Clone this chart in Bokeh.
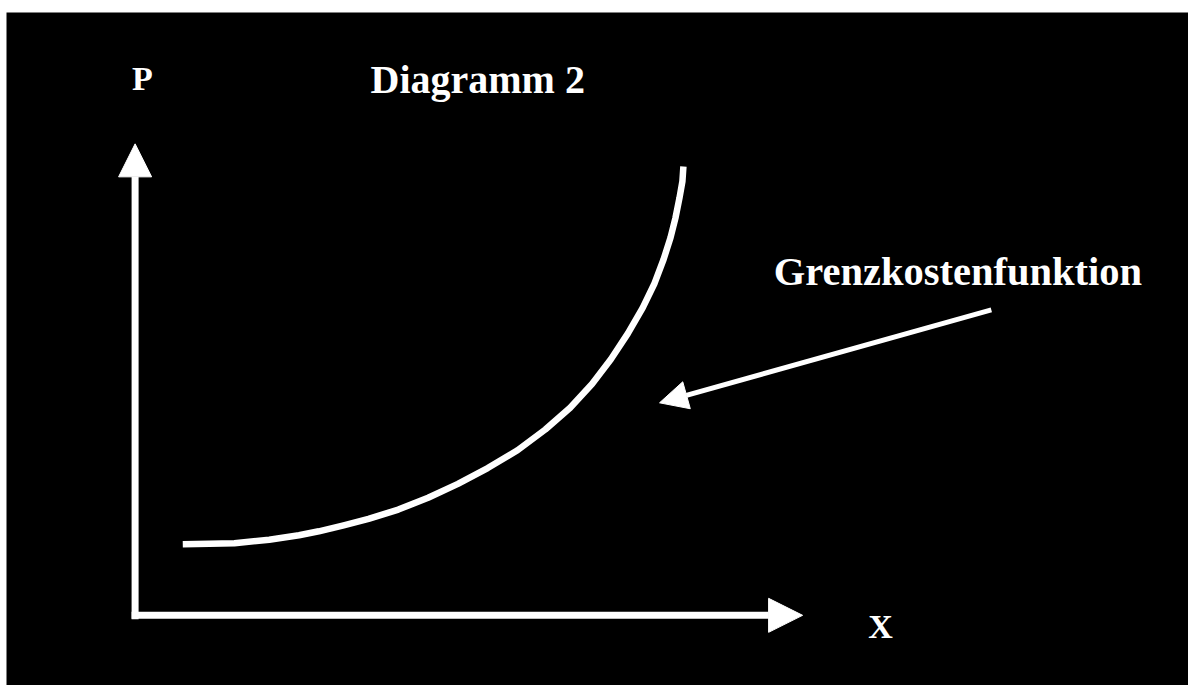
from bokeh.plotting import figure
from bokeh.models import Arrow, NormalHead, Label, Range1d
from bokeh.embed import file_html
from bokeh.resources import INLINE

# Curve (Grenzkostenfunktion), origin at the axes corner
curve_x = [48, 75, 100, 135, 165, 185, 210, 235, 265, 295, 325, 355, 385, 413,
           438, 460, 479, 496, 511, 523, 532, 539, 544, 548, 551, 552]
curve_y = [72, 72.5, 73, 76.5, 81, 85, 91, 97.5, 107, 119, 133, 149, 167, 188,
           210, 234, 259, 285, 311, 336, 360, 382, 402, 422, 439, 454]

title_text = "Diagramm 2"
y_label = "P"
x_label = "X"
curve_label = "Grenzkostenfunktion"

W, H = 1188, 685
p = figure(width=W, height=H, output_backend="svg", toolbar_location=None,
           x_axis_type=None, y_axis_type=None,
           x_range=Range1d(6.04 - 135.5, 1196 - 135.5), y_range=Range1d(-71, 609.9),
           min_border_top=12, min_border_left=6, min_border_right=0, min_border_bottom=0,
           background_fill_color="black", border_fill_color="white",
           outline_line_color=None)
p.grid.visible = False

# axes with arrow heads
p.add_layout(Arrow(x_start=0, y_start=-4, x_end=0, y_end=477,
                   line_color="white", line_width=7,
                   end=NormalHead(size=33, fill_color="white", line_color="white", line_width=1)))
p.add_layout(Arrow(x_start=-3.5, y_start=0, x_end=672, y_end=0,
                   line_color="white", line_width=7,
                   end=NormalHead(size=34, fill_color="white", line_color="white", line_width=1)))

# curve
p.line(curve_x, curve_y, line_color="white", line_width=6.5, line_join="round")

# pointer arrow
p.add_layout(Arrow(x_start=862, y_start=309, x_end=528, y_end=215,
                   line_color="white", line_width=5,
                   end=NormalHead(size=28, fill_color="white", line_color="white", line_width=1)))

font = "Liberation Serif"
for txt, x, y, size in [(y_label, -3, 543, "34px"), (title_text, 237, 542, "40px"),
                        (curve_label, 643, 348, "40.5px"), (x_label, 738, -11, "34px")]:
    p.add_layout(Label(x=x, y=y, text=txt, text_color="white", text_font=font,
                       text_font_style="bold", text_font_size=size,
                       text_baseline="alphabetic", text_align="left"))

open("out.html", "w").write(file_html(p, INLINE))
